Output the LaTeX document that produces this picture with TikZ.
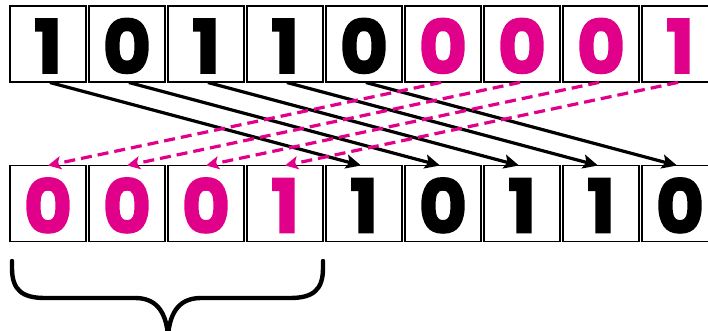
\documentclass[tikz,border=0pt]{standalone}
\usepackage{fontspec}
\setmainfont{Poppins}[BoldFeatures={FakeBold=2.5}]
\usetikzlibrary{arrows.meta}
\definecolor{bitpink}{RGB}{224,0,138}
\tikzset{
  bitbox/.style={draw=black, line width=1.8pt, minimum width=76pt, minimum height=76pt, inner sep=0pt, outer sep=0pt, font=\fontsize{74}{74}\selectfont\bfseries},
  digit/.style={inner sep=0pt, font=\fontsize{74}{74}\selectfont\bfseries, yshift=-2pt},
  pinkbit/.style={text=bitpink},
  blackbit/.style={text=black},
  movearrow/.style={draw=black, line width=3.2pt, -{Stealth[length=15pt,width=14pt,inset=3pt]}, shorten <=2pt},
  pinkarrow/.style={draw=bitpink, line width=3.2pt, dash pattern=on 11pt off 6pt, -{Stealth[length=13pt,width=13pt,inset=3pt]}, shorten <=2pt},
  bracestyle/.style={draw=black, line width=4.4pt, line cap=round, line join=round}
}
\begin{document}
\begin{tikzpicture}[x=1pt,y=-1pt]
\useasboundingbox (0,0) rectangle (708,331);
\clip (0,0) rectangle (708,331);
% top row
\node[bitbox] (t1) at (48,44) {}; \node[digit,blackbit] at (t1) {1};
\node[bitbox] (t2) at (127,44) {}; \node[digit,blackbit] at (t2) {0};
\node[bitbox] (t3) at (206,44) {}; \node[digit,blackbit] at (t3) {1};
\node[bitbox] (t4) at (285,44) {}; \node[digit,blackbit] at (t4) {1};
\node[bitbox] (t5) at (364,44) {}; \node[digit,blackbit] at (t5) {0};
\node[bitbox] (t6) at (443,44) {}; \node[digit,pinkbit] at (t6) {0};
\node[bitbox] (t7) at (522,44) {}; \node[digit,pinkbit] at (t7) {0};
\node[bitbox] (t8) at (601,44) {}; \node[digit,pinkbit] at (t8) {0};
\node[bitbox] (t9) at (680,44) {}; \node[digit,pinkbit] at (t9) {1};
% bottom row
\node[bitbox] (b1) at (48,203.5) {}; \node[digit,pinkbit] at (b1) {0};
\node[bitbox] (b2) at (127,203.5) {}; \node[digit,pinkbit] at (b2) {0};
\node[bitbox] (b3) at (206,203.5) {}; \node[digit,pinkbit] at (b3) {0};
\node[bitbox] (b4) at (285,203.5) {}; \node[digit,pinkbit] at (b4) {1};
\node[bitbox] (b5) at (364,203.5) {}; \node[digit,blackbit] at (b5) {1};
\node[bitbox] (b6) at (443,203.5) {}; \node[digit,blackbit] at (b6) {0};
\node[bitbox] (b7) at (522,203.5) {}; \node[digit,blackbit] at (b7) {1};
\node[bitbox] (b8) at (601,203.5) {}; \node[digit,blackbit] at (b8) {1};
\node[bitbox] (b9) at (680,203.5) {}; \node[digit,blackbit] at (b9) {0};
% black shifts
\draw[movearrow] (t1.south) -- ([xshift=-3pt]b5.north);
\draw[movearrow] (t2.south) -- ([xshift=-3pt]b6.north);
\draw[movearrow] (t3.south) -- ([xshift=-3pt]b7.north);
\draw[movearrow] (t4.south) -- ([xshift=-3pt]b8.north);
\draw[movearrow] (t5.south) -- ([xshift=-3pt]b9.north);
% pink wrap-around
\draw[pinkarrow] (t6.south) -- (b1.north);
\draw[pinkarrow] (t7.south) -- (b2.north);
\draw[pinkarrow] (t8.south) -- (b3.north);
\draw[pinkarrow] (t9.south) -- (b4.north);
% brace
\coordinate (bl) at (12,261);
\coordinate (br) at (323,261);
\coordinate (bm) at (168,336);
\draw[bracestyle] (bl) -- (12,268) .. controls (12,290) and (22,298) .. (45,298) -- (135,298) .. controls (155,298) and (166,310) .. (bm);
\draw[bracestyle] (br) -- (323,268) .. controls (323,290) and (313,298) .. (290,298) -- (201,298) .. controls (181,298) and (170,310) .. (bm);
\end{tikzpicture}
\end{document}
